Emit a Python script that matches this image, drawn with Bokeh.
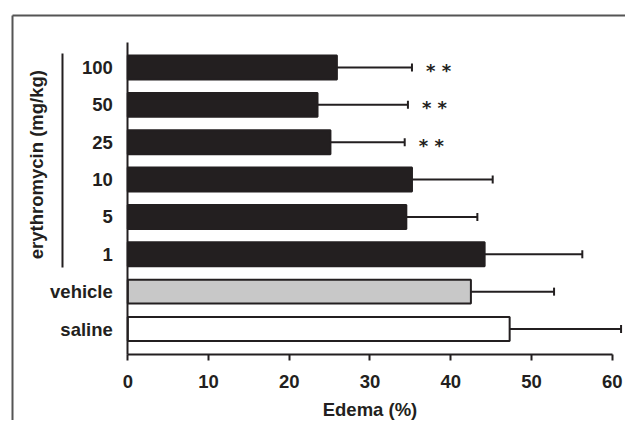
import numpy as np
from bokeh.plotting import figure
from bokeh.models import LinearAxis, FixedTicker, Range1d, ColumnDataSource
from bokeh.core.properties import value
from bokeh.embed import file_html
from bokeh.resources import INLINE

# ---- data (top to bottom in the chart) ----
groups = ["100", "50", "25", "10", "5", "1", "vehicle", "saline"]
means = [25.9, 23.5, 25.1, 35.2, 34.5, 44.2, 42.5, 47.3]
errors = [9.3, 11.2, 9.2, 10.0, 8.8, 12.1, 10.3, 13.8]
fills = ["#231f20", "#231f20", "#231f20", "#231f20", "#231f20", "#231f20", "#c8c8c8", "#ffffff"]
signif = ["* *", "* *", "* *", "", "", "", "", ""]
x_ticks = [0, 10, 20, 30, 40, 50, 60]
x_title = "Edema (%)"
group_title = "erythromycin (mg/kg)"

FONT = "Liberation Sans"
FS = "18.5px"
INK = "#231f20"

n = len(groups)
ypos = [n - 1 - i for i in range(n)]  # saline at 0, 100 at 7

W, H = 625, 420
# pixel layout -> data ranges
x0_px, px_per_x = 127.3, 8.073
y0_px, px_per_y = 328.5, 37.36
x_start = -x0_px / px_per_x
x_end = x_start + W / px_per_x
y_end = y0_px / px_per_y
y_start = y_end - H / px_per_y

p = figure(width=W, height=H, output_backend="svg", toolbar_location=None,
           x_axis_type=None, y_axis_type=None,
           x_range=Range1d(x_start, x_end), y_range=Range1d(y_start, y_end),
           min_border=0, min_border_left=0, min_border_right=0,
           min_border_top=0, min_border_bottom=0)
p.outline_line_color = None
p.background_fill_color = "white"
p.border_fill_color = "white"

axis_bottom = -0.683
axis_top = 7.67

# ---- axes ----
xaxis = LinearAxis(fixed_location=axis_bottom, bounds=(0, 60),
                   ticker=FixedTicker(ticks=x_ticks), axis_label=x_title)
xaxis.axis_line_width = 2
xaxis.axis_line_color = INK
xaxis.major_tick_line_width = 2
xaxis.major_tick_line_color = INK
xaxis.major_tick_out = 6
xaxis.major_tick_in = 0
xaxis.minor_tick_out = 0
xaxis.minor_tick_in = 0
xaxis.major_label_standoff = 14
xaxis.major_label_text_font = FONT
xaxis.major_label_text_font_style = "bold"
xaxis.major_label_text_font_size = FS
xaxis.major_label_text_color = INK
xaxis.axis_label_text_font = FONT
xaxis.axis_label_text_font_style = "bold"
xaxis.axis_label_text_font_size = FS
xaxis.axis_label_text_color = INK
xaxis.axis_label_standoff = 8
p.add_layout(xaxis, "below")

yaxis = LinearAxis(fixed_location=0, bounds=(axis_bottom, axis_top),
                   ticker=FixedTicker(ticks=ypos))
yaxis.major_label_overrides = {yp: g for yp, g in zip(ypos, groups)}
yaxis.axis_line_width = 2
yaxis.axis_line_color = INK
yaxis.major_tick_out = 0
yaxis.major_tick_in = 0
yaxis.minor_tick_out = 0
yaxis.minor_tick_in = 0
yaxis.major_label_standoff = 15
yaxis.major_label_text_font = FONT
yaxis.major_label_text_font_style = "bold"
yaxis.major_label_text_font_size = FS
yaxis.major_label_text_color = INK
p.add_layout(yaxis, "left")

# ---- bars ----
src = ColumnDataSource(dict(
    y=ypos, mean=means, err_end=[m + e for m, e in zip(means, errors)],
    fill=fills, sig=signif))

p.segment(x0="mean", y0="y", x1="err_end", y1="y", source=src,
          line_color=INK, line_width=2)
p.scatter(x="err_end", y="y", source=src, marker="dash", angle=np.pi / 2,
          size=8, line_color=INK, line_width=2)
p.hbar(y="y", left=0, right="mean", height=0.64, source=src,
       fill_color="fill", line_color=INK, line_width=2)

p.text(x="err_end", y="y", text="sig", source=src, x_offset=14, y_offset=3,
       text_font=value("DejaVu Sans"), text_font_style="bold", text_font_size="18px",
       text_color=INK, text_baseline="middle", text_align="left")

# ---- group bracket and rotated title ----
p.segment(x0=[-8.09], y0=[1.646], x1=[-8.09], y1=[7.374],
          line_color=INK, line_width=2)
p.text(x=[-11.37], y=[4.4], text=[group_title], angle=np.pi / 2,
       text_font=value(FONT), text_font_style="bold", text_font_size=FS,
       text_color=INK, text_baseline="middle", text_align="center")

# ---- outer frame (top and left) ----
frame_left = (12 - x0_px) / px_per_x
frame_top = (y0_px - 15) / px_per_y
p.segment(x0=[frame_left, frame_left], y0=[frame_top, frame_top],
          x1=[x_end + 1, frame_left], y1=[frame_top, y_start - 1],
          line_color="#555555", line_width=2)

open("out.html", "w").write(file_html(p, INLINE))
